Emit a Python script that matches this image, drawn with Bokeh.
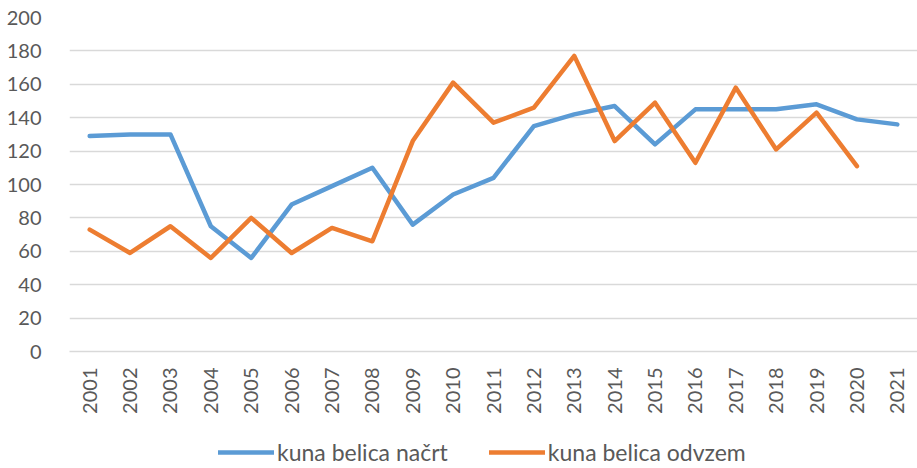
from bokeh.plotting import figure
from bokeh.models import FactorRange, Range1d, SingleIntervalTicker, Legend, LegendItem
from bokeh.layouts import column
from bokeh.embed import file_html
from bokeh.resources import INLINE
import math

years = [str(y) for y in range(2001, 2022)]
nacrt = [129, 130, 130, 75, 56, 88, 99, 110, 76, 94, 104, 135, 142, 147, 124, 145, 145, 145, 148, 139, 136]
odvzem_years = [str(y) for y in range(2001, 2021)]
odvzem = [73, 59, 75, 56, 80, 59, 74, 66, 126, 161, 137, 146, 177, 126, 149, 113, 158, 121, 143, 111]
labels = ["kuna belica načrt", "kuna belica odvzem"]

FONT = "Lato"
TXT = "#595959"
BLUE = "#5b9bd5"
ORANGE = "#ed7d31"
W = 917

p = figure(x_range=FactorRange(*years, range_padding=0), y_range=Range1d(0, 200),
           width=W, height=416,
           output_backend="svg", toolbar_location=None,
           min_border_left=69, min_border_top=17, min_border_right=0, min_border_bottom=0)
p.outline_line_color = None

p.line(years, nacrt, line_color=BLUE, line_width=4.5, line_cap="round", line_join="round")
p.line(odvzem_years, odvzem, line_color=ORANGE, line_width=4.5, line_cap="round", line_join="round")

p.yaxis.ticker = SingleIntervalTicker(interval=20)
p.yaxis.axis_line_color = None
p.yaxis.major_tick_line_color = None
p.yaxis.minor_tick_line_color = None
p.yaxis.major_tick_out = 0
p.yaxis.major_label_standoff = 24
p.yaxis.major_label_text_font = FONT
p.yaxis.major_label_text_font_size = "20px"
p.yaxis.major_label_text_color = TXT

p.xaxis.axis_line_color = "#d9d9d9"
p.xaxis.axis_line_width = 1.5
p.xaxis.major_tick_line_color = None
p.xaxis.minor_tick_line_color = None
p.xaxis.major_tick_out = 0
p.xaxis.major_label_orientation = math.pi / 2
p.xaxis.major_label_standoff = 16
p.xaxis.major_label_text_font = FONT
p.xaxis.major_label_text_font_size = "20px"
p.xaxis.major_label_text_color = TXT

p.xgrid.grid_line_color = None
p.ygrid.grid_line_color = "#d9d9d9"
p.ygrid.grid_line_width = 1.5

# legend strip (same series, drawn outside its visible range so only the legend shows)
q = figure(x_range=FactorRange(*years), y_range=Range1d(-10, -5),
           width=W, height=50, output_backend="svg", toolbar_location=None,
           x_axis_location=None, y_axis_location=None,
           min_border_left=0, min_border_top=0, min_border_right=0, min_border_bottom=0)
q.outline_line_color = None
q.grid.visible = False
l1 = q.line(years, nacrt, line_color=BLUE, line_width=4.5, line_cap="round")
l2 = q.line(odvzem_years, odvzem, line_color=ORANGE, line_width=4.5, line_cap="round")

legend = Legend(items=[LegendItem(label=labels[0], renderers=[l1]),
                       LegendItem(label=labels[1], renderers=[l2])],
                orientation="horizontal", location=(149, 0),
                label_text_font=FONT, label_text_font_size="23px", label_text_color=TXT,
                glyph_width=56, glyph_height=20, label_standoff=3, spacing=41,
                border_line_color=None, background_fill_alpha=0, margin=0, padding=0)
q.add_layout(legend, "center")

layout = column(p, q, spacing=0)
open("out.html", "w").write(file_html(layout, INLINE))
